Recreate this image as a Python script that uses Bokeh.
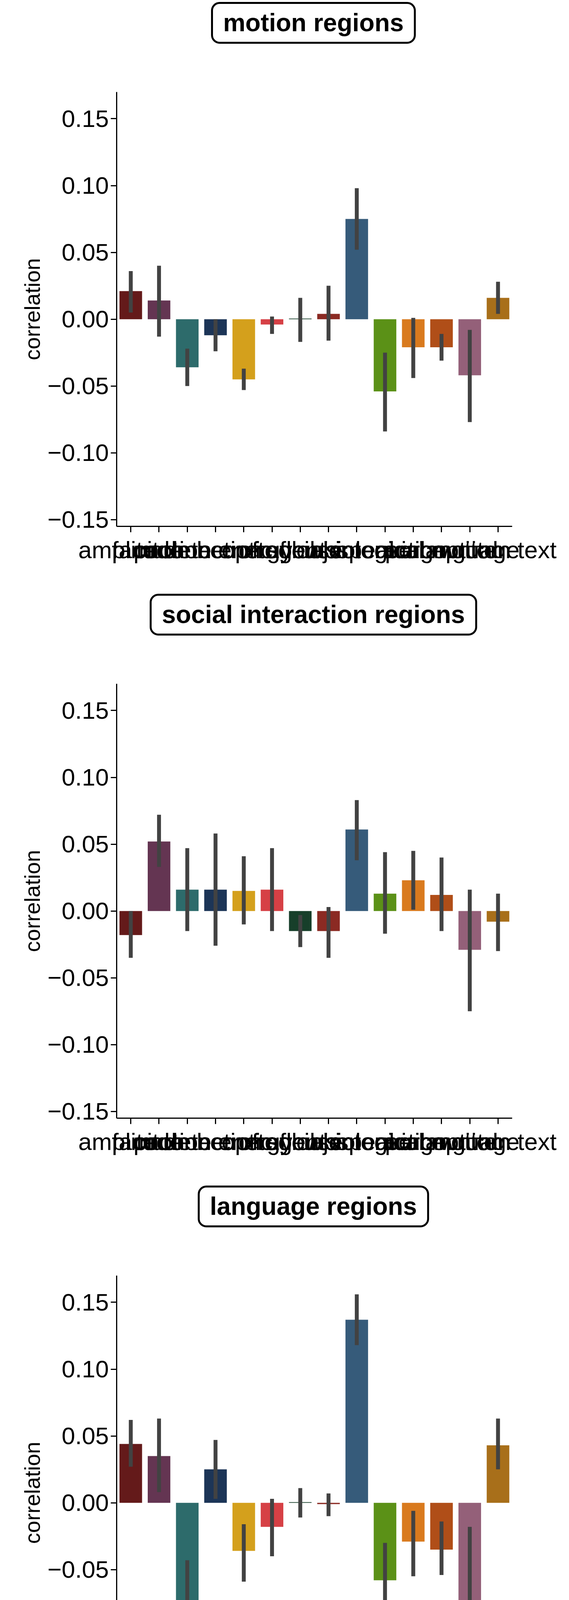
from bokeh.plotting import figure
from bokeh.layouts import column
from bokeh.models import ColumnDataSource, FixedTicker, Range1d, Div
from bokeh.embed import file_html
from bokeh.resources import INLINE

features = ["amplitude", "pitch", "face detection", "motion energy", "number of agents",
            "optic flow", "tool use", "object", "social interaction", "speaking",
            "biological motion", "perceptual", "language", "written text"]
colors = ["#641a1a", "#643552", "#2d6b6b", "#1c3557", "#d4a01c", "#d64045", "#173f2a",
          "#8b2a23", "#365b7a", "#5b9117", "#d97a1e", "#b04e18", "#946079", "#a86f1a"]

titles = ["motion regions", "social interaction regions", "language regions"]

motion_mean = [0.021, 0.014, -0.036, -0.012, -0.045, -0.004, 0.0005, 0.004, 0.075, -0.054, -0.021, -0.021, -0.042, 0.016]
motion_lo = [0.005, -0.013, -0.050, -0.024, -0.053, -0.011, -0.017, -0.016, 0.052, -0.084, -0.044, -0.031, -0.077, 0.004]
motion_hi = [0.036, 0.040, -0.022, 0.000, -0.037, 0.002, 0.016, 0.025, 0.098, -0.025, 0.001, -0.011, -0.008, 0.028]

social_mean = [-0.018, 0.052, 0.016, 0.016, 0.015, 0.016, -0.015, -0.015, 0.061, 0.013, 0.023, 0.012, -0.029, -0.008]
social_lo = [-0.035, 0.033, -0.015, -0.026, -0.010, -0.015, -0.027, -0.035, 0.038, -0.017, 0.001, -0.015, -0.075, -0.030]
social_hi = [0.000, 0.072, 0.047, 0.058, 0.041, 0.047, -0.003, 0.003, 0.083, 0.044, 0.045, 0.040, 0.016, 0.013]

lang_mean = [0.044, 0.035, -0.081, 0.025, -0.036, -0.018, 0.0005, -0.001, 0.137, -0.058, -0.029, -0.035, -0.080, 0.043]
lang_lo = [0.027, 0.008, -0.119, 0.003, -0.059, -0.040, -0.011, -0.010, 0.118, -0.088, -0.055, -0.054, -0.142, 0.025]
lang_hi = [0.062, 0.063, -0.043, 0.047, -0.016, 0.003, 0.011, 0.007, 0.156, -0.030, -0.006, -0.014, -0.018, 0.063]

yticks = [-0.15, -0.10, -0.05, 0.0, 0.05, 0.10, 0.15]
FONT = "Liberation Sans"


def panel(title, mean, lo, hi):
    xs = list(range(len(features)))
    head = Div(width=1440, height=215,
               text=f'<span style="display:inline-block; border:5px solid black; border-radius:22px; '
                    f'padding:10px 26px; font-family:{FONT}; font-size:64px; font-weight:bold; '
                    f'line-height:1.2; background:white;">{title}</span>',
               styles={"text-align": "center", "padding-left": "154px", "box-sizing": "border-box",
                       "width": "1440px"})
    p = figure(width=1440, height=1290, output_backend="svg", toolbar_location=None,
               x_range=Range1d(-0.5, 13.5), y_range=Range1d(-0.155, 0.17),
               min_border_left=298, min_border_right=130, min_border_top=10, min_border_bottom=168)
    p.outline_line_color = None
    p.grid.visible = False
    src = ColumnDataSource(dict(x=xs, top=mean, color=colors))
    p.vbar(x="x", top="top", bottom=0, width=0.8, fill_color="color", line_color=None, source=src)
    p.segment(x0=xs, x1=xs, y0=lo, y1=hi, line_color="#424242", line_width=10)

    p.yaxis.ticker = FixedTicker(ticks=yticks)
    p.yaxis.major_label_overrides = {t: f"{t:.2f}".replace("-", "\u2212") for t in yticks}
    p.xaxis.ticker = FixedTicker(ticks=xs)
    p.xaxis.major_label_overrides = {i: f for i, f in enumerate(features)}
    for ax in (p.xaxis, p.yaxis):
        ax.axis_line_width = 3
        ax.major_tick_line_width = 3
        ax.major_tick_out = 15
        ax.major_tick_in = 0
        ax.minor_tick_line_color = None
        ax.major_label_text_font = FONT
        ax.major_label_text_font_size = "62px"
        ax.major_label_text_color = "black"
    p.yaxis.axis_label = "correlation"
    p.yaxis.axis_label_text_font = FONT
    p.yaxis.axis_label_text_font_size = "56px"
    p.yaxis.axis_label_text_font_style = "normal"
    p.yaxis.axis_label_text_color = "black"
    p.xaxis.major_label_standoff = 10
    return column(head, p, spacing=0)


layout = column(panel(titles[0], motion_mean, motion_lo, motion_hi),
                panel(titles[1], social_mean, social_lo, social_hi),
                panel(titles[2], lang_mean, lang_lo, lang_hi), spacing=0)
open("out.html", "w").write(file_html(layout, INLINE))
